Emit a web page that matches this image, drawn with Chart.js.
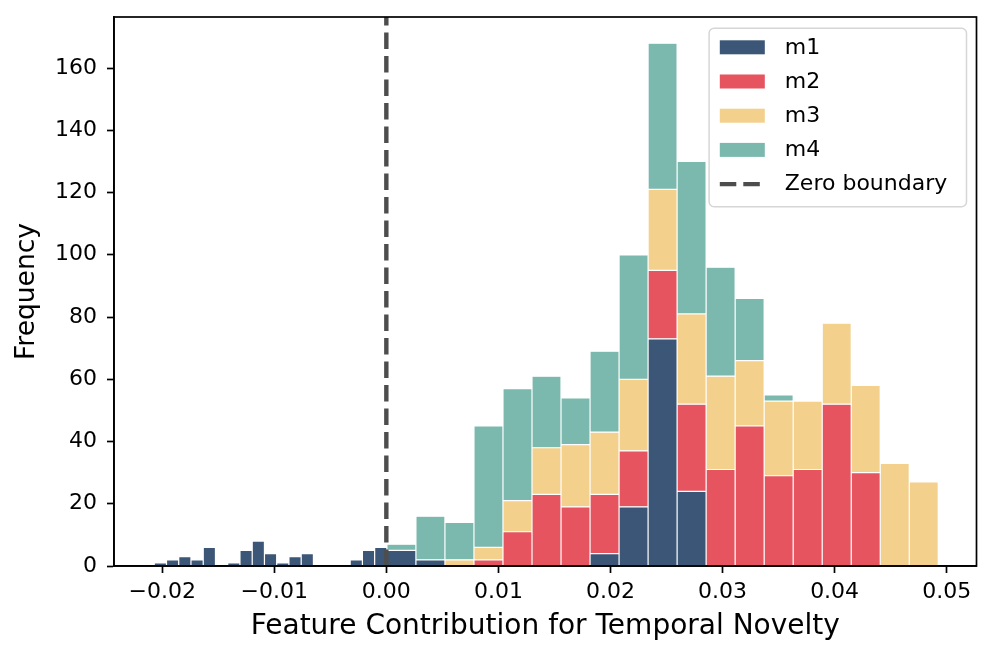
<!DOCTYPE html>
<html>
<head>
<meta charset="utf-8">
<script src="https://cdn.jsdelivr.net/npm/chart.js@4.4.1/dist/chart.umd.min.js"></script>
<style>
  html, body { margin: 0; padding: 0; background: #fff; }
  canvas { display: block; }
</style>
</head>
<body>
<canvas id="histChart" width="995" height="658"></canvas>
<script>
// m1 negative side uses narrow bins
const narrowRange = [-0.02071, 0.00005];
const m1Narrow = [1, 2, 3, 2, 6, 0, 1, 5, 8, 4, 1, 3, 4, 0, 0, 0, 2, 5, 6];

// wide bins, stacked m1..m4
const wideRange = [0.00005, 0.04925];
const m1Wide = [5, 2, 0, 0, 0, 0, 0, 4, 19, 73, 24, 0, 0, 0, 0, 0, 0, 0, 0];
const m2Wide = [0, 0, 0, 2, 11, 23, 19, 19, 18, 22, 28, 31, 45, 29, 31, 52, 30, 0, 0];
const m3Wide = [0, 0, 2, 4, 10, 15, 20, 20, 23, 26, 29, 30, 21, 24, 22, 26, 28, 33, 27];
const m4Wide = [2, 14, 12, 39, 36, 23, 15, 26, 40, 47, 49, 35, 20, 2, 0, 0, 0, 0, 0];

const xTicks = [-0.02, -0.01, 0.00, 0.01, 0.02, 0.03, 0.04, 0.05];
const yTicks = [0, 20, 40, 60, 80, 100, 120, 140, 160];
const zeroBoundary = 0;

const FONT = 'DejaVu Sans';
Chart.defaults.font.family = FONT;

const colors = { m1: '#3b5676', m2: '#e5545f', m3: '#f3d08c', m4: '#7bb9ae' };

function binWidth(range, counts) {
  return (range[1] - range[0]) / counts.length;
}
function toPoints(range, counts) {
  const w = binWidth(range, counts);
  return counts.map((v, i) => ({ x: range[0] + w * (i + 0.5), y: v }));
}

// bar width is relative to the narrowest spacing (narrow bins)
const wideRatio = binWidth(wideRange, m1Wide) / binWidth(narrowRange, m1Narrow);

const barStyle = {
  borderColor: '#ffffff',
  borderWidth: 0.6,
  borderSkipped: false,
  inflateAmount: 0,
  categoryPercentage: 1,
  stack: 'hist',
  order: 2
};

const yMax = 176.4;

const framePlugin = {
  id: 'frame',
  afterDatasetsDraw(chart) {
    const { ctx, chartArea: a } = chart;
    ctx.save();
    ctx.strokeStyle = '#000';
    ctx.lineWidth = 1.7;
    ctx.strokeRect(a.left, a.top, a.right - a.left, a.bottom - a.top);
    ctx.restore();
  }
};

const legendPlugin = {
  id: 'boxLegend',
  afterDraw(chart) {
    const { ctx, chartArea: a } = chart;
    const seen = new Set();
    const items = chart.data.datasets.filter(ds => {
      if (seen.has(ds.label)) return false;
      seen.add(ds.label);
      return true;
    });
    const w = 257.4, h = 178.4, r = 5;
    const x0 = a.right - 10 - w, y0 = a.top + 11.3;
    ctx.save();
    ctx.beginPath();
    ctx.moveTo(x0 + r, y0);
    ctx.lineTo(x0 + w - r, y0);
    ctx.arcTo(x0 + w, y0, x0 + w, y0 + r, r);
    ctx.lineTo(x0 + w, y0 + h - r);
    ctx.arcTo(x0 + w, y0 + h, x0 + w - r, y0 + h, r);
    ctx.lineTo(x0 + r, y0 + h);
    ctx.arcTo(x0, y0 + h, x0, y0 + h - r, r);
    ctx.lineTo(x0, y0 + r);
    ctx.arcTo(x0, y0, x0 + r, y0, r);
    ctx.closePath();
    ctx.fillStyle = 'rgba(255,255,255,0.8)';
    ctx.fill();
    ctx.strokeStyle = '#d6d6d6';
    ctx.lineWidth = 1.5;
    ctx.stroke();

    items.forEach((ds, i) => {
      const cy = y0 + 19 + i * 34.2;
      if (ds.type === 'line') {
        ctx.beginPath();
        ctx.setLineDash(ds.borderDash);
        ctx.strokeStyle = ds.borderColor;
        ctx.lineWidth = ds.borderWidth;
        ctx.moveTo(x0 + 10.7, cy);
        ctx.lineTo(x0 + 55.7, cy);
        ctx.stroke();
        ctx.setLineDash([]);
      } else {
        ctx.fillStyle = ds.backgroundColor;
        ctx.fillRect(x0 + 10.7, cy - 7, 45, 14);
      }
      ctx.fillStyle = '#000';
      ctx.font = '22px "' + FONT + '"';
      ctx.textAlign = 'left';
      ctx.textBaseline = 'middle';
      ctx.fillText(ds.label, x0 + 75.7, cy + 0.5);
    });
    ctx.restore();
  }
};

const ctx = document.getElementById('histChart').getContext('2d');
const histChart = new Chart(ctx, {
  type: 'bar',
  data: {
    datasets: [
      { label: 'm1', data: toPoints(narrowRange, m1Narrow), backgroundColor: colors.m1, barPercentage: 1, ...barStyle },
      { label: 'm1', data: toPoints(wideRange, m1Wide), backgroundColor: colors.m1, barPercentage: wideRatio, ...barStyle },
      { label: 'm2', data: toPoints(wideRange, m2Wide), backgroundColor: colors.m2, barPercentage: wideRatio, ...barStyle },
      { label: 'm3', data: toPoints(wideRange, m3Wide), backgroundColor: colors.m3, barPercentage: wideRatio, ...barStyle },
      { label: 'm4', data: toPoints(wideRange, m4Wide), backgroundColor: colors.m4, barPercentage: wideRatio, ...barStyle },
      {
        type: 'line',
        label: 'Zero boundary',
        data: [{ x: zeroBoundary, y: 0 }, { x: zeroBoundary, y: yMax }],
        borderColor: '#4d4d4d',
        borderWidth: 4.4,
        borderDash: [16.5, 7],
        pointRadius: 0,
        fill: false,
        order: 0
      }
    ]
  },
  options: {
    responsive: false,
    animation: false,
    layout: { padding: { top: 17, right: 18.5, bottom: 0, left: 0 } },
    plugins: {
      legend: { display: false },
      tooltip: { enabled: false }
    },
    scales: {
      x: {
        type: 'linear',
        min: -0.0243,
        max: 0.05266,
        offset: false,
        stacked: true,
        grid: {
          offset: false,
          drawOnChartArea: false,
          drawTicks: true,
          tickLength: 7,
          tickWidth: 1.7,
          tickColor: '#000',
          color: '#000'
        },
        border: { display: true, color: '#000', width: 1.7 },
        ticks: {
          color: '#000',
          font: { size: 22 },
          padding: 6,
          autoSkip: false,
          maxRotation: 0,
          callback: v => (v < 0 ? '\u2212' : '') + Math.abs(v).toFixed(2)
        },
        afterBuildTicks: s => { s.ticks = xTicks.map(v => ({ value: v })); },
        afterFit: s => { s.height = 92; },
        title: {
          display: true,
          text: 'Feature Contribution for Temporal Novelty',
          color: '#000',
          font: { size: 28 },
          padding: { top: 0, bottom: 14 }
        }
      },
      y: {
        min: 0,
        max: yMax,
        stacked: true,
        grid: {
          drawOnChartArea: false,
          drawTicks: true,
          tickLength: 7,
          tickWidth: 1.7,
          tickColor: '#000',
          color: '#000'
        },
        border: { display: true, color: '#000', width: 1.7 },
        ticks: {
          color: '#000',
          font: { size: 22 },
          padding: 10,
          autoSkip: false
        },
        afterBuildTicks: s => { s.ticks = yTicks.map(v => ({ value: v })); },
        afterFit: s => {
          s.width = 114;
          s.paddingTop = 0;
          s.paddingBottom = 0;
        },
        title: {
          display: true,
          text: 'Frequency',
          color: '#000',
          font: { size: 26.5 },
          padding: { top: 11, bottom: 0 }
        }
      }
    }
  },
  plugins: [framePlugin, legendPlugin]
});
</script>
</body>
</html>
